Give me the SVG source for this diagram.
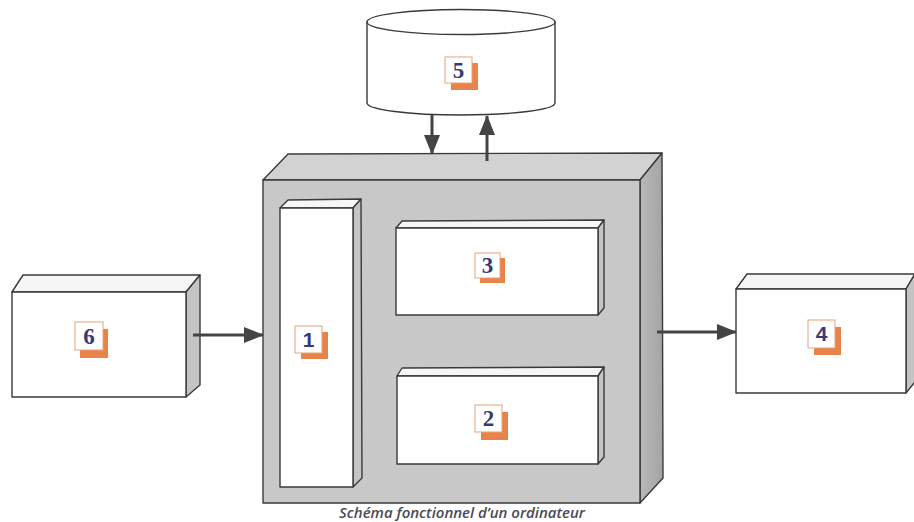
<svg xmlns="http://www.w3.org/2000/svg" width="914" height="522" viewBox="0 0 914 522">
<defs>
<style>
.ln{stroke:#3a3a3a;stroke-width:1.4;stroke-linejoin:round}
.wf{fill:#ffffff}
.wt{fill:#f6f6f6}
.ws{fill:#c4c4c4}
.shadow{fill:#e8834a}
.badge{fill:#ffffff;stroke:#e8a27a;stroke-width:1}
.num{font-family:"Liberation Serif","DejaVu Serif",serif;font-weight:bold;font-size:23px;fill:#353a78;text-anchor:middle}
.numsans{font-family:"Liberation Sans","DejaVu Sans",sans-serif;font-weight:bold;font-size:21px;fill:#353a78;text-anchor:middle}
.arr{stroke:#444;stroke-width:3;fill:none}
.cap{font-family:"Open Sans","Liberation Sans",sans-serif;font-style:italic;font-weight:600;font-size:15px;fill:#4a4a58;text-anchor:middle}
</style>
<marker id="ah" viewBox="0 0 20 16" refX="19" refY="8" markerWidth="20" markerHeight="16" markerUnits="userSpaceOnUse" orient="auto">
<path d="M0,0 L20,8 L0,16 Z" fill="#444"/>
</marker>
<linearGradient id="rg" x1="0" y1="0" x2="1" y2="0">
<stop offset="0" stop-color="#b8b8b8"/>
<stop offset="1" stop-color="#a4a4a4"/>
</linearGradient>
</defs>
<rect width="914" height="522" fill="#ffffff"/>

<g id="node-computer">
<polygon class="ln" fill="#d2d2d2" points="263,180 288,154 662,153 640,180"/>
<polygon class="ln" fill="url(#rg)" points="640,180 662,153 663,478 640,503"/>
<rect class="ln" fill="#c8c8c8" x="263" y="180" width="377" height="323"/>
</g>

<g id="node-1">
<polygon class="ln wt" points="280,208 288,200 361,199 353,208"/>
<polygon class="ln ws" points="353,208 361,199 362,478 353,487"/>
<rect class="ln wf" x="280" y="208" width="73" height="279"/>
<rect class="shadow" x="301" y="332" width="27" height="27"/>
<rect class="badge" x="295" y="326" width="27" height="27"/>
<text class="numsans" x="308.5" y="347">1</text>
</g>

<g id="node-3">
<polygon class="ln wt" points="396,228 402,221 604,220 598,228"/>
<polygon class="ln ws" points="598,228 604,220 604,308 598,315"/>
<rect class="ln wf" x="396" y="228" width="202" height="87"/>
<rect class="shadow" x="480" y="258" width="25" height="25"/>
<rect class="badge" x="475" y="253" width="25" height="25"/>
<text class="num" x="487.5" y="273">3</text>
</g>

<g id="node-2">
<polygon class="ln wt" points="397,376 402,368 604,367 598,376"/>
<polygon class="ln ws" points="598,376 604,367 604,457 598,464"/>
<rect class="ln wf" x="397" y="376" width="201" height="88"/>
<rect class="shadow" x="481" y="412" width="27" height="28"/>
<rect class="badge" x="475" y="405" width="27" height="27"/>
<text class="num" x="488.5" y="426">2</text>
</g>

<g id="node-6">
<polygon class="ln wt" points="12,292 23,275 200,275 186,292"/>
<polygon class="ln ws" points="186,292 200,275 200,385 186,397"/>
<rect class="ln wf" x="12" y="292" width="174" height="105"/>
<rect class="shadow" x="80" y="329" width="28" height="29"/>
<rect class="badge" x="75" y="322" width="28" height="28"/>
<text class="num" x="89" y="344">6</text>
</g>

<g id="node-4">
<polygon class="ln wt" points="736,289 747,274 915,274 906,289"/>
<polygon class="ln ws" points="906,289 915,274 915,382 906,393"/>
<rect class="ln wf" x="736" y="289" width="170" height="104"/>
<rect class="shadow" x="814" y="327" width="27" height="28"/>
<rect class="badge" x="808" y="320" width="27" height="28"/>
<text class="numsans" x="821.5" y="341">4</text>
</g>

<g id="node-5">
<path class="ln wf" d="M367,22 L367,103 A94,12 0 0 0 555,103 L555,22 Z"/>
<ellipse class="ln wf" cx="461" cy="22" rx="94" ry="12.5"/>
<rect class="shadow" x="451" y="63" width="27" height="27"/>
<rect class="badge" x="445" y="57" width="27" height="26"/>
<text class="num" x="458.5" y="78">5</text>
</g>

<g id="connectors">
<line class="arr" x1="432" y1="115" x2="432" y2="154" marker-end="url(#ah)"/>
<line class="arr" x1="487" y1="161" x2="487" y2="116" marker-end="url(#ah)"/>
<line class="arr" x1="193" y1="335" x2="263" y2="335" marker-end="url(#ah)"/>
<line class="arr" x1="657" y1="332" x2="736" y2="332" marker-end="url(#ah)"/>
</g>

<text class="cap" x="462" y="518">Schéma fonctionnel d’un ordinateur</text>
</svg>
